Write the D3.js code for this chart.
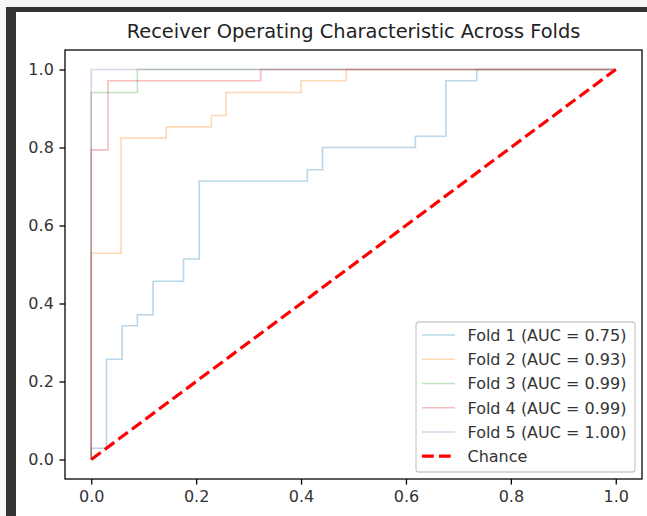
<!DOCTYPE html>
<html>
<head>
<meta charset="utf-8">
<script src="https://cdn.jsdelivr.net/npm/d3@7"></script>
<style>
  html, body { margin: 0; padding: 0; background: #ffffff; }
  svg { display: block; font-family: "DejaVu Sans", sans-serif; }
</style>
</head>
<body>
<svg id="chart" width="647" height="516"></svg>
<script>
// ---------------- data ----------------
const titleText = "Receiver Operating Characteristic Across Folds";
const foldNames = ["Fold 1", "Fold 2", "Fold 3", "Fold 4", "Fold 5"];
const foldAUC = ["0.75", "0.93", "0.99", "0.99", "1.00"];
const foldColors = ["#1f77b4", "#ff7f0e", "#2ca02c", "#d62728", "#9467bd"];

const fold1Fpr = [0, 0, 0.029, 0.029, 0.059, 0.059, 0.088, 0.088, 0.118, 0.118, 0.176, 0.176, 0.206, 0.206, 0.412, 0.412, 0.441, 0.441, 0.618, 0.618, 0.676, 0.676, 0.735, 0.735, 1];
const fold1Tpr = [0, 0.029, 0.029, 0.257, 0.257, 0.343, 0.343, 0.371, 0.371, 0.457, 0.457, 0.514, 0.514, 0.714, 0.714, 0.743, 0.743, 0.8, 0.8, 0.829, 0.829, 0.971, 0.971, 1, 1];

const fold2Fpr = [0, 0, 0.057, 0.057, 0.143, 0.143, 0.229, 0.229, 0.257, 0.257, 0.4, 0.4, 0.486, 0.486, 1];
const fold2Tpr = [0, 0.529, 0.529, 0.824, 0.824, 0.853, 0.853, 0.882, 0.882, 0.941, 0.941, 0.971, 0.971, 1, 1];

const fold3Fpr = [0, 0, 0.088, 0.088, 1];
const fold3Tpr = [0, 0.941, 0.941, 1, 1];

const fold4Fpr = [0, 0, 0.032, 0.032, 0.323, 0.323, 1];
const fold4Tpr = [0, 0.794, 0.794, 0.971, 0.971, 1, 1];

const fold5Fpr = [0, 0, 1];
const fold5Tpr = [0, 1, 1];

const chanceX = [0, 1];
const chanceY = [0, 1];

const xTicks = [0, 0.2, 0.4, 0.6, 0.8, 1.0];
const yTicks = [0, 0.2, 0.4, 0.6, 0.8, 1.0];

// ---------------- layout ----------------
const svg = d3.select("#chart");
const W = 647, H = 516;
const ax = { left: 65, top: 50, right: 642, bottom: 479 };
const PT = 1.6; // px per point

// page frame (dark screenshot border)
svg.append("rect").attr("x", 0).attr("y", 0).attr("width", W).attr("height", H).attr("fill", "#f7f7f7");
svg.append("rect").attr("x", 6).attr("y", 7).attr("width", W - 6).attr("height", H - 7).attr("fill", "#333333");
svg.append("rect").attr("x", 16).attr("y", 12).attr("width", W - 16).attr("height", H - 12).attr("fill", "#ffffff");

const x = d3.scaleLinear().domain([-0.05, 1.05]).range([ax.left, ax.right]);
const y = d3.scaleLinear().domain([-0.05, 1.05]).range([ax.bottom, ax.top]);

// ---------------- curves ----------------
const folds = [
  { fpr: fold1Fpr, tpr: fold1Tpr },
  { fpr: fold2Fpr, tpr: fold2Tpr },
  { fpr: fold3Fpr, tpr: fold3Tpr },
  { fpr: fold4Fpr, tpr: fold4Tpr },
  { fpr: fold5Fpr, tpr: fold5Tpr }
];

const line = d3.line().x(d => x(d[0])).y(d => y(d[1]));
const plot = svg.append("g");

folds.forEach((f, i) => {
  const pts = f.fpr.map((v, k) => [v, f.tpr[k]]);
  plot.append("path")
    .attr("d", line(pts))
    .attr("fill", "none")
    .attr("stroke", foldColors[i])
    .attr("stroke-opacity", 0.3)
    .attr("stroke-width", 1 * PT)
    .attr("stroke-linejoin", "miter")
    .attr("stroke-linecap", "butt");
});

plot.append("path")
  .attr("d", line(chanceX.map((v, k) => [v, chanceY[k]])))
  .attr("fill", "none")
  .attr("stroke", "red")
  .attr("stroke-width", 2 * PT)
  .attr("stroke-dasharray", "11.8,5.1")
  .attr("stroke-linecap", "butt");

// ---------------- axes ----------------
const tickLen = 3.5 * PT;
const xAxis = d3.axisBottom(x).tickValues(xTicks).tickFormat(d3.format(".1f")).tickSize(tickLen).tickPadding(3.5 * PT);
const yAxis = d3.axisLeft(y).tickValues(yTicks).tickFormat(d3.format(".1f")).tickSize(tickLen).tickPadding(3.5 * PT);

const gx = svg.append("g").attr("transform", `translate(0,${ax.bottom})`).call(xAxis);
const gy = svg.append("g").attr("transform", `translate(${ax.left},0)`).call(yAxis);
[gx, gy].forEach(g => {
  g.select(".domain").remove();
  g.selectAll(".tick line").attr("stroke", "#000").attr("stroke-width", 0.8 * PT);
  g.selectAll(".tick text").attr("fill", "#333").attr("font-size", "16px").attr("font-family", "DejaVu Sans");
});

// spines
svg.append("rect")
  .attr("x", ax.left).attr("y", ax.top)
  .attr("width", ax.right - ax.left).attr("height", ax.bottom - ax.top)
  .attr("fill", "none").attr("stroke", "#000").attr("stroke-width", 0.8 * PT);

// title
svg.append("text")
  .attr("x", (ax.left + ax.right) / 2).attr("y", 38)
  .attr("text-anchor", "middle")
  .attr("font-size", "19.4px")
  .attr("fill", "#222")
  .text(titleText);

// ---------------- legend ----------------
const legendLabels = foldNames.map((n, i) => `${n} (AUC = ${foldAUC[i]})`).concat(["Chance"]);
const lg = svg.append("g");
lg.append("rect")
  .attr("x", 416).attr("y", 322).attr("width", 219).attr("height", 150)
  .attr("rx", 3).attr("fill", "#ffffff").attr("fill-opacity", 0.8)
  .attr("stroke", "#cccccc").attr("stroke-width", 1.3);

const rowY = d3.scaleLinear().domain([0, 5]).range([335, 456.2]);
legendLabels.forEach((lab, i) => {
  const cy = rowY(i);
  const isChance = i === 5;
  lg.append("line")
    .attr("x1", 422).attr("x2", 455).attr("y1", cy).attr("y2", cy)
    .attr("stroke", isChance ? "red" : foldColors[i])
    .attr("stroke-opacity", isChance ? 1 : 0.3)
    .attr("stroke-width", isChance ? 2 * PT : 1 * PT)
    .attr("stroke-dasharray", isChance ? "11.8,5.1" : null);
  lg.append("text")
    .attr("x", 467.5).attr("y", cy + 5.8)
    .attr("font-size", "16px")
    .attr("fill", "#333")
    .text(lab);
});
</script>
</body>
</html>
